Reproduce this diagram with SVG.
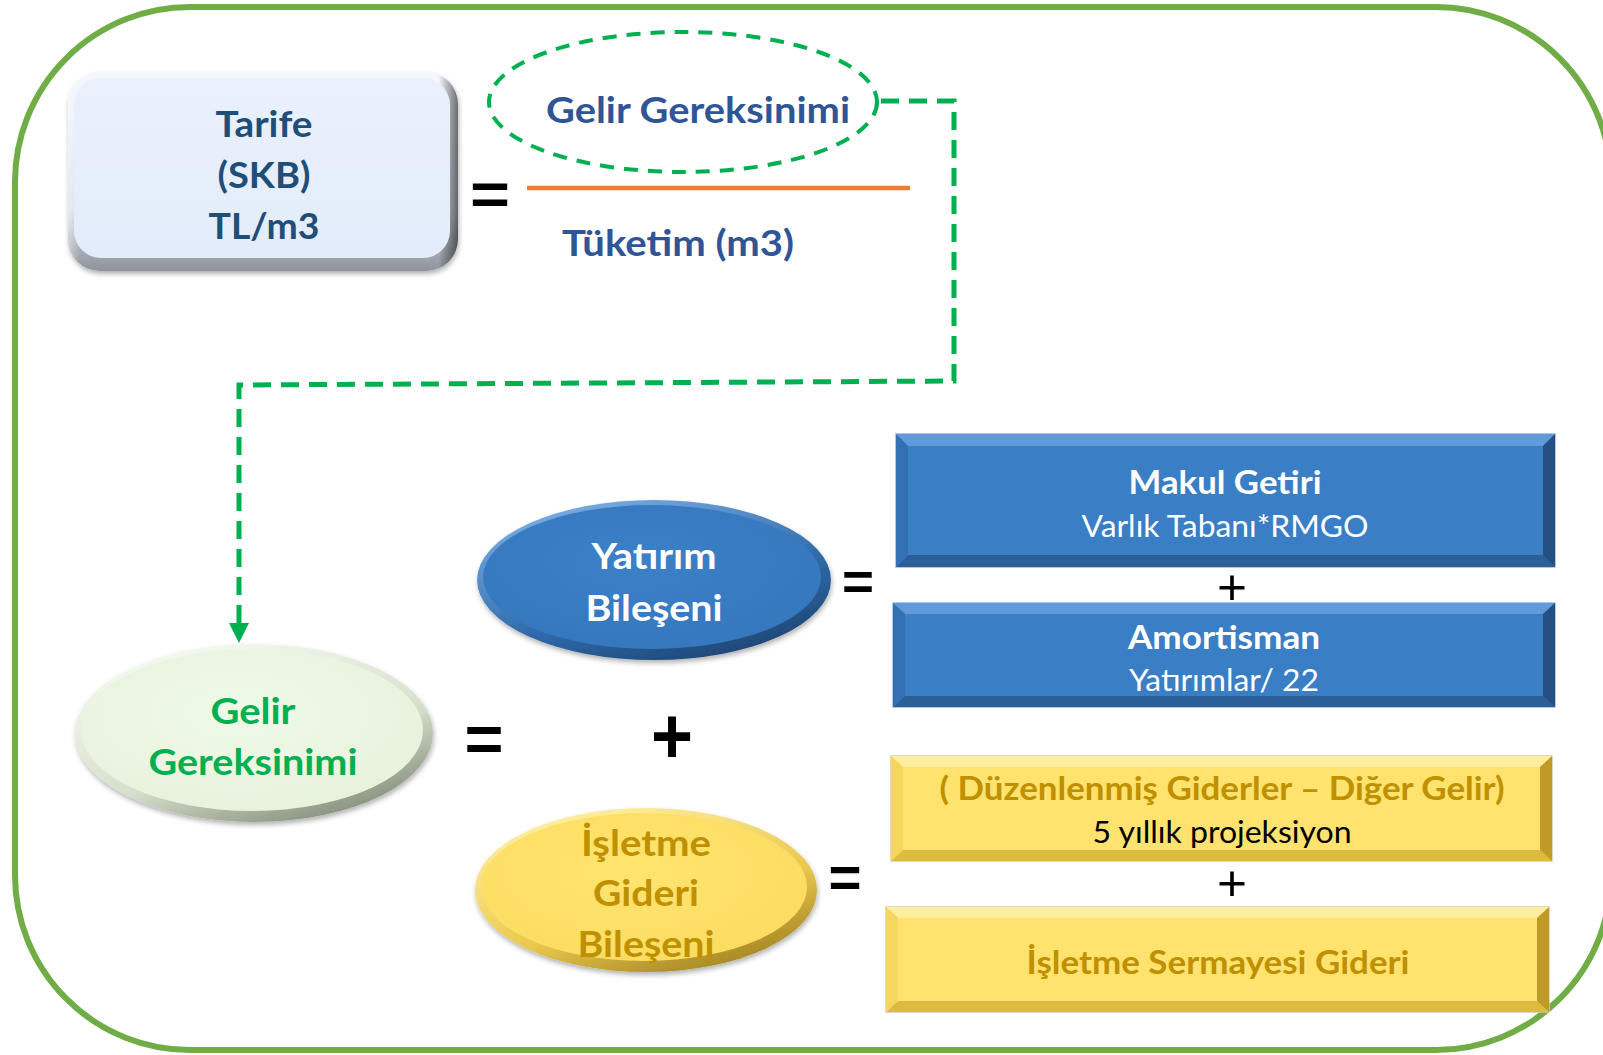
<svg xmlns="http://www.w3.org/2000/svg" width="1603" height="1055" viewBox="0 0 1603 1055">
<defs>
<style>
.t{font-family:Lato,"Open Sans","Liberation Sans",sans-serif;text-anchor:middle}
.b{font-weight:bold}
.op{font-family:"Liberation Sans",Arial,sans-serif;text-anchor:middle;fill:#000}
.navy{fill:#1F4E79}
.blu{fill:#2F5597}
.grn{fill:#00B050}
.wht{fill:#FFFFFF}
.gold{fill:#BF9000}
.blk{fill:#000}
</style>
<marker id="arr" markerWidth="20" markerHeight="20" refX="0" refY="10" orient="auto" markerUnits="userSpaceOnUse" viewBox="0 0 20 20">
<path d="M0,0 L20,10 L0,20 Z" fill="#00B050"/>
</marker>
<linearGradient id="tarRim" x1="0" y1="0" x2="0" y2="1">
<stop offset="0" stop-color="#F6F8FD"/><stop offset="0.7" stop-color="#D9DEE8"/><stop offset="1" stop-color="#8E939C"/>
</linearGradient>
<linearGradient id="tarSide" x1="0" y1="0" x2="1" y2="0">
<stop offset="0" stop-color="#FFFFFF" stop-opacity="0.4"/><stop offset="0.03" stop-color="#FFFFFF" stop-opacity="0"/><stop offset="0.95" stop-color="#000000" stop-opacity="0"/><stop offset="1" stop-color="#000000" stop-opacity="0.55"/>
</linearGradient>
<linearGradient id="tarIn" x1="0" y1="0" x2="0" y2="1">
<stop offset="0" stop-color="#EAF1FD"/><stop offset="1" stop-color="#E3ECFA"/>
</linearGradient>
<linearGradient id="gRim" x1="0.2" y1="0" x2="0.8" y2="1">
<stop offset="0" stop-color="#F8FCF3"/><stop offset="0.6" stop-color="#D6DFCC"/><stop offset="1" stop-color="#7D8775"/>
</linearGradient>
<radialGradient id="gIn" cx="0.45" cy="0.4" r="0.6">
<stop offset="0" stop-color="#EFF9E8"/><stop offset="1" stop-color="#E8F3DE"/>
</radialGradient>
<linearGradient id="bRim" x1="0.2" y1="0" x2="0.8" y2="1">
<stop offset="0" stop-color="#7DB0E6"/><stop offset="0.6" stop-color="#2F6AAA"/><stop offset="1" stop-color="#1C426F"/>
</linearGradient>
<radialGradient id="bIn" cx="0.45" cy="0.4" r="0.6">
<stop offset="0" stop-color="#3C80C8"/><stop offset="1" stop-color="#3578BE"/>
</radialGradient>
<linearGradient id="yRim" x1="0.2" y1="0" x2="0.8" y2="1">
<stop offset="0" stop-color="#FFF2A8"/><stop offset="0.6" stop-color="#EBC94E"/><stop offset="1" stop-color="#9C7E1E"/>
</linearGradient>
<radialGradient id="yIn" cx="0.45" cy="0.4" r="0.6">
<stop offset="0" stop-color="#FFE46F"/><stop offset="1" stop-color="#FCDD62"/>
</radialGradient>
<filter id="sh" x="-10%" y="-10%" width="120%" height="130%">
<feDropShadow dx="1" dy="3" stdDeviation="2.5" flood-color="#000" flood-opacity="0.3"/>
</filter>
</defs>

<rect x="0" y="0" width="1603" height="1055" fill="#FFFFFF"/>

<g id="frame">
<rect x="15" y="7" width="1596" height="1043" rx="175" ry="175" fill="none" stroke="#70AD47" stroke-width="6"/>
</g>

<g id="connectors">
<path d="M 881 101 L 954 101 L 954 381 L 239 385 L 239 623" fill="none" stroke="#00B050" stroke-width="5" stroke-dasharray="18 10" marker-end="url(#arr)"/>
<line x1="527" y1="188" x2="910" y2="188" stroke="#ED7D31" stroke-width="4.5"/>
</g>

<g id="tarife">
<rect x="68" y="72" width="390" height="199" rx="32" ry="32" fill="url(#tarRim)" filter="url(#sh)"/>
<rect x="68" y="72" width="390" height="199" rx="32" ry="32" fill="url(#tarSide)"/>
<rect x="74" y="78" width="376" height="180" rx="27" ry="27" fill="url(#tarIn)"/>
<text class="t b navy" x="264" y="137" font-size="36" textLength="97" lengthAdjust="spacingAndGlyphs">Tarife</text>
<text class="t b navy" x="264" y="188" font-size="36" textLength="93" lengthAdjust="spacingAndGlyphs">(SKB)</text>
<text class="t b navy" x="264" y="239" font-size="36" textLength="111" lengthAdjust="spacingAndGlyphs">TL/m3</text>
</g>

<g id="eq-top">
<text class="op b" x="490" y="214" font-size="60" textLength="40" lengthAdjust="spacingAndGlyphs">=</text>
</g>

<g id="gelir-top">
<ellipse cx="683" cy="102" rx="194" ry="70" fill="none" stroke="#00B050" stroke-width="4" stroke-dasharray="14 10"/>
<text class="t b blu" x="698" y="123" font-size="37" textLength="304" lengthAdjust="spacingAndGlyphs">Gelir Gereksinimi</text>
</g>

<g id="tuketim">
<text class="t b blu" x="678" y="256" font-size="37" textLength="232" lengthAdjust="spacingAndGlyphs">Tüketim (m3)</text>
</g>

<g id="gelir-main">
<ellipse cx="254" cy="733" rx="179" ry="89" fill="url(#gRim)" filter="url(#sh)"/>
<ellipse cx="252" cy="730" rx="171" ry="81" fill="url(#gIn)"/>
<text class="t b grn" x="253" y="724" font-size="37" textLength="85" lengthAdjust="spacingAndGlyphs">Gelir</text>
<text class="t b grn" x="253" y="775" font-size="37" textLength="209" lengthAdjust="spacingAndGlyphs">Gereksinimi</text>
</g>

<g id="eq-main">
<text class="op b" x="484" y="761" font-size="64" textLength="39" lengthAdjust="spacingAndGlyphs">=</text>
</g>
<g id="plus-main">
<text class="op b" x="672" y="763" font-size="80" textLength="42" lengthAdjust="spacingAndGlyphs">+</text>
</g>

<g id="yatirim">
<ellipse cx="654" cy="580" rx="177" ry="80" fill="url(#bRim)" filter="url(#sh)"/>
<ellipse cx="652" cy="577" rx="169" ry="72" fill="url(#bIn)"/>
<text class="t b wht" x="654" y="569" font-size="37" textLength="125" lengthAdjust="spacingAndGlyphs">Yatırım</text>
<text class="t b wht" x="654" y="621" font-size="37" textLength="137" lengthAdjust="spacingAndGlyphs">Bileşeni</text>
</g>

<g id="eq-yatirim">
<text class="op b" x="858" y="600" font-size="54" textLength="32" lengthAdjust="spacingAndGlyphs">=</text>
</g>

<g id="makul">
<rect x="896" y="434" width="659" height="133" fill="#3A7EC5" stroke="#9FB2E0" stroke-width="1.5"/>
<polygon points="896,434 1555,434 1543,446 908,446" fill="#5F9BDA"/>
<polygon points="896,567 1555,567 1543,555 908,555" fill="#2B5F98"/>
<polygon points="1555,434 1555,567 1543,555 1543,446" fill="#244F80"/>
<polygon points="896,434 896,567 908,555 908,446" fill="#3371B4"/>
<text class="t b wht" x="1225" y="494" font-size="33" textLength="193" lengthAdjust="spacingAndGlyphs">Makul Getiri</text>
<text class="t wht" x="1225" y="537" font-size="30" textLength="287" lengthAdjust="spacingAndGlyphs">Varlık Tabanı*RMGO</text>
</g>

<g id="plus-1">
<text class="op" x="1232" y="604" font-size="50" textLength="30" lengthAdjust="spacingAndGlyphs">+</text>
</g>

<g id="amortisman">
<rect x="893" y="603" width="662" height="104" fill="#3A7EC5" stroke="#9FB2E0" stroke-width="1.5"/>
<polygon points="893,603 1555,603 1543,614 905,614" fill="#5F9BDA"/>
<polygon points="893,707 1555,707 1543,696 905,696" fill="#2B5F98"/>
<polygon points="1555,603 1555,707 1543,696 1543,614" fill="#244F80"/>
<polygon points="893,603 893,707 905,696 905,614" fill="#3371B4"/>
<text class="t b wht" x="1224" y="649" font-size="33" textLength="192" lengthAdjust="spacingAndGlyphs">Amortisman</text>
<text class="t wht" x="1224" y="691" font-size="30" textLength="190" lengthAdjust="spacingAndGlyphs">Yatırımlar/ 22</text>
</g>

<g id="isletme">
<ellipse cx="646" cy="890" rx="171" ry="82" fill="url(#yRim)" filter="url(#sh)"/>
<ellipse cx="644" cy="887" rx="163" ry="74" fill="url(#yIn)"/>
<text class="t b gold" x="646" y="856" font-size="37" textLength="130" lengthAdjust="spacingAndGlyphs">İşletme</text>
<text class="t b gold" x="646" y="906" font-size="37" textLength="106" lengthAdjust="spacingAndGlyphs">Gideri</text>
<text class="t b gold" x="646" y="957" font-size="37" textLength="137" lengthAdjust="spacingAndGlyphs">Bileşeni</text>
</g>

<g id="eq-isletme">
<text class="op b" x="845" y="897" font-size="58" textLength="33" lengthAdjust="spacingAndGlyphs">=</text>
</g>

<g id="duzenlenmis">
<rect x="891" y="756" width="661" height="105" fill="#FFE36E" stroke="#D8CCA8" stroke-width="1.5"/>
<polygon points="891,756 1552,756 1540,767 903,767" fill="#FFEE9E"/>
<polygon points="891,861 1552,861 1540,850 903,850" fill="#DDBB40"/>
<polygon points="1552,756 1552,861 1540,850 1540,767" fill="#BF9A28"/>
<polygon points="891,756 891,861 903,850 903,767" fill="#F4D75C"/>
<text class="t b gold" x="1222" y="800" font-size="33" textLength="565" lengthAdjust="spacingAndGlyphs">( Düzenlenmiş Giderler – Diğer Gelir)</text>
<text class="t blk" x="1222" y="843" font-size="30" textLength="259" lengthAdjust="spacingAndGlyphs">5 yıllık projeksiyon</text>
</g>

<g id="plus-2">
<text class="op" x="1232" y="900" font-size="50" textLength="30" lengthAdjust="spacingAndGlyphs">+</text>
</g>

<g id="sermaye">
<rect x="886" y="907" width="663" height="105" fill="#FFE36E" stroke="#D8CCA8" stroke-width="1.5"/>
<polygon points="886,907 1549,907 1537,918 898,918" fill="#FFEE9E"/>
<polygon points="886,1012 1549,1012 1537,1001 898,1001" fill="#DDBB40"/>
<polygon points="1549,907 1549,1012 1537,1001 1537,918" fill="#BF9A28"/>
<polygon points="886,907 886,1012 898,1001 898,918" fill="#F4D75C"/>
<text class="t b gold" x="1218" y="974" font-size="33" textLength="383" lengthAdjust="spacingAndGlyphs">İşletme Sermayesi Gideri</text>
</g>
</svg>
